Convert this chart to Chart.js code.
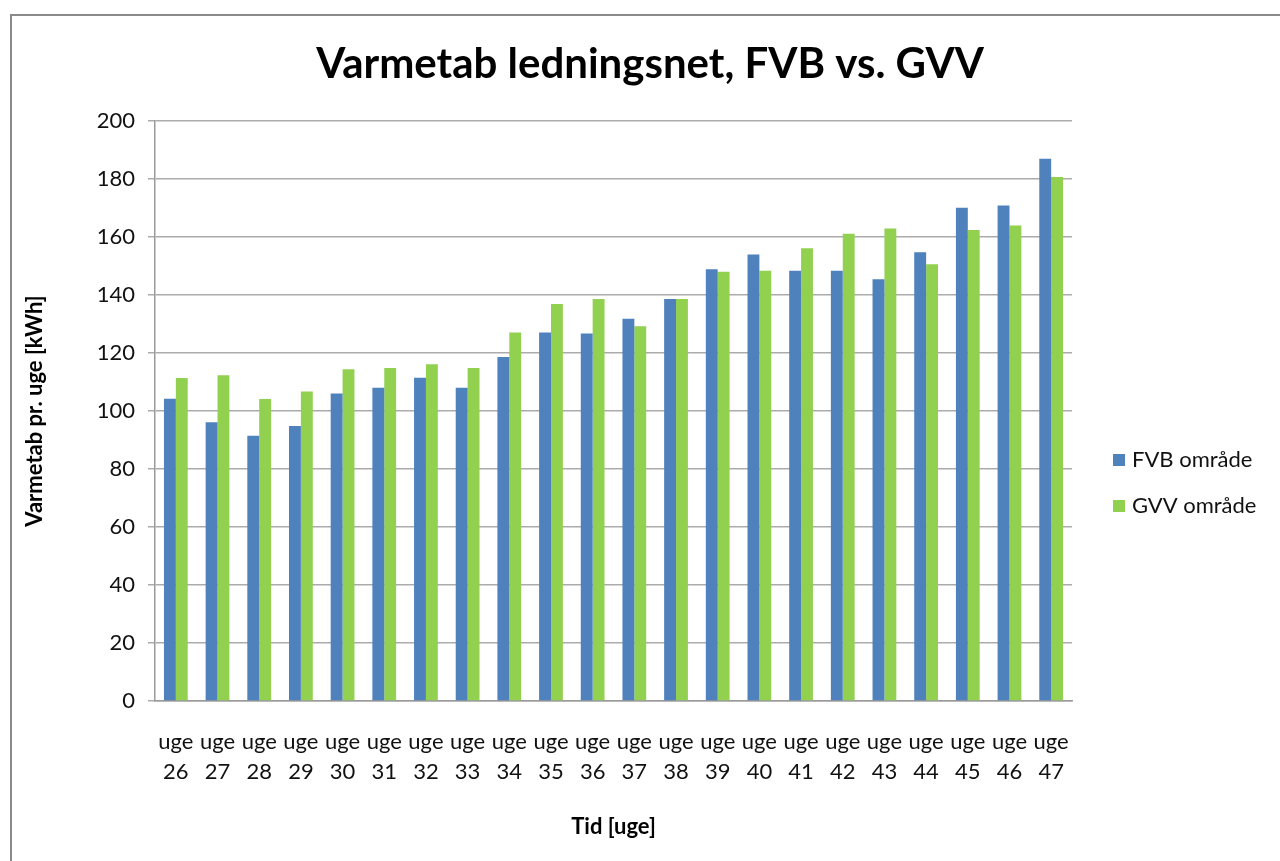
<!DOCTYPE html>
<html lang="da">
<head>
<meta charset="utf-8">
<title>Varmetab ledningsnet, FVB vs. GVV</title>
<script src="https://cdn.jsdelivr.net/npm/chart.js@4.4.1/dist/chart.umd.min.js"></script>
<style>
  html, body { margin: 0; padding: 0; background: #fff; overflow: hidden; }
  #frame {
    position: absolute; left: 10px; top: 14px;
    width: 1300px; height: 900px;
    border: 2px solid #8a8a8a; box-sizing: border-box;
  }
  #wrap { position: absolute; left: 0; top: 0; width: 1268px; height: 845px; }
</style>
</head>
<body>
<div id="frame"><div id="wrap"><canvas id="chart"></canvas></div></div>
<script>
// Weeks shown on the x axis
const weeks = [26, 27, 28, 29, 30, 31, 32, 33, 34, 35, 36, 37, 38, 39, 40, 41, 42, 43, 44, 45, 46, 47];
const weekLabels = weeks.map(w => ['uge', String(w)]);

// Weekly heat loss per area, kWh
const fvbValues = [104.2, 96.1, 91.5, 94.8, 106.0, 108.0, 111.5, 108.0, 118.6, 127.1, 126.7, 131.8,
                   138.6, 148.9, 154.0, 148.4, 148.4, 145.4, 154.7, 170.1, 170.9, 187.0];
const gvvValues = [111.4, 112.3, 104.1, 106.7, 114.4, 114.8, 116.1, 114.8, 127.1, 136.9, 138.6, 129.2,
                   138.6, 148.0, 148.4, 156.1, 161.1, 162.9, 150.6, 162.4, 164.0, 180.7];

const seriesNames = ['FVB område', 'GVV område'];
const seriesColors = ['#4F81BD', '#92D050'];
const yTicks = { min: 0, max: 200, step: 20 };
const chartTitle = 'Varmetab ledningsnet, FVB vs. GVV';

const FONT = 'Lato, "Open Sans", "DejaVu Sans", sans-serif';

// Title centred over the whole chart, legend at the right beside the plot
const decorations = {
  id: 'decorations',
  afterDraw(chart) {
    const ctx = chart.ctx;
    ctx.save();
    ctx.fillStyle = '#000';
    ctx.font = 'bold 42px ' + FONT;
    ctx.textAlign = 'center';
    ctx.textBaseline = 'middle';
    ctx.fillText(chartTitle, 638, 48);

    ctx.font = '22px ' + FONT;
    ctx.textAlign = 'left';
    const x0 = 1101, yStart = 444, gap = 46, box = 12;
    chart.data.datasets.forEach((ds, i) => {
      const y = yStart + i * gap;
      ctx.fillStyle = ds.backgroundColor;
      ctx.fillRect(x0, y - box / 2, box, box);
      ctx.fillStyle = '#111';
      ctx.fillText(ds.label, x0 + 19, y);
    });
    ctx.restore();
  }
};

new Chart(document.getElementById('chart'), {
  type: 'bar',
  data: {
    labels: weekLabels,
    datasets: [
      { label: seriesNames[0], data: fvbValues, backgroundColor: seriesColors[0] },
      { label: seriesNames[1], data: gvvValues, backgroundColor: seriesColors[1] }
    ]
  },
  options: {
    responsive: true,
    maintainAspectRatio: false,
    animation: false,
    layout: { padding: { left: 0, right: 208, top: 105, bottom: 0 } },
    datasets: { bar: { categoryPercentage: 0.57, barPercentage: 1.0 } },
    plugins: {
      legend: { display: false },
      tooltip: { enabled: false },
      title: { display: false }
    },
    scales: {
      x: {
        afterFit(scale) { scale.height = 160; },
        grid: { display: false, drawTicks: false },
        border: { display: true, color: '#9a9a9a', width: 1.5 },
        ticks: {
          color: '#111', maxRotation: 0, minRotation: 0, autoSkip: false, padding: 26,
          font: { family: FONT, size: 22, lineHeight: 1.36 }
        },
        title: {
          display: true, text: 'Tid [uge]', color: '#000',
          font: { family: FONT, size: 22, weight: 'bold' },
          padding: { top: 0, bottom: 21 }
        }
      },
      y: {
        min: yTicks.min, max: yTicks.max,
        afterFit(scale) { scale.width = 143; },
        grid: { color: '#ababab', lineWidth: 1.5, tickLength: 7, drawTicks: true },
        border: { display: true, color: '#9a9a9a', width: 1.5 },
        ticks: {
          stepSize: yTicks.step, color: '#111', padding: 13,
          font: { family: FONT, size: 22 }
        },
        title: {
          display: true, text: 'Varmetab pr. uge [kWh]', color: '#000',
          font: { family: FONT, size: 22, weight: 'bold' },
          padding: { top: 10, bottom: 0 }
        }
      }
    }
  },
  plugins: [decorations]
});
</script>
</body>
</html>
